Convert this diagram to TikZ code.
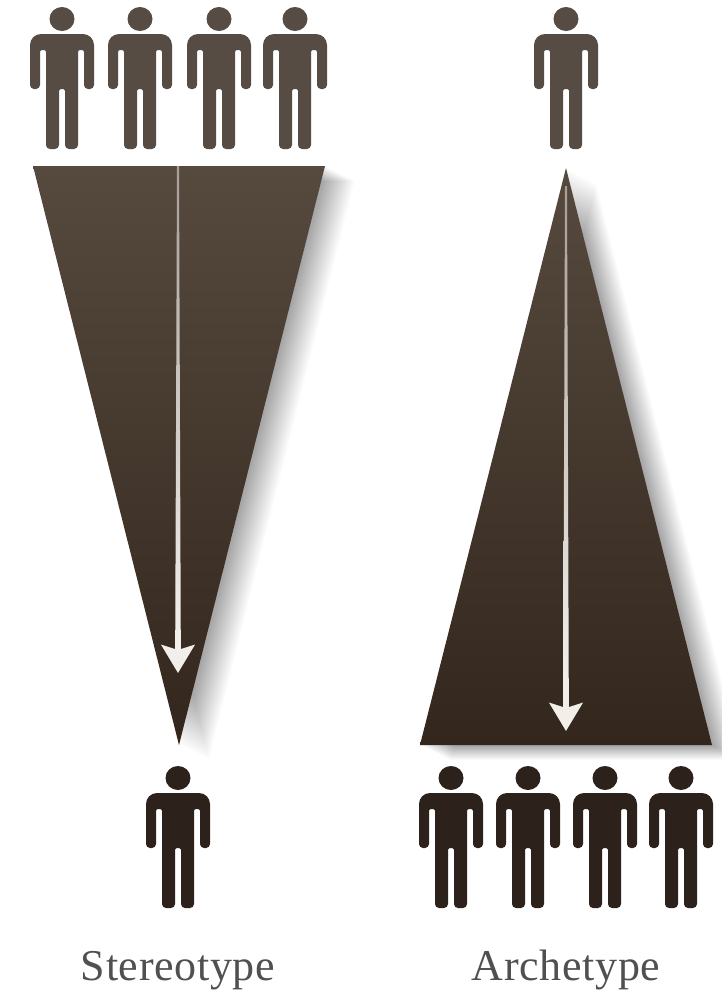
\documentclass[tikz,border=0pt]{standalone}
\usepackage{fontspec}
\setmainfont[LetterSpace=1.5]{Liberation Serif}
\usetikzlibrary{arrows.meta,calc}
\definecolor{figlight}{HTML}{574C43}
\definecolor{figdark}{HTML}{2C211B}
\definecolor{tritop}{HTML}{564A3F}
\definecolor{tribot}{HTML}{33261C}
\definecolor{labelgray}{HTML}{505050}
\definecolor{shaftend}{HTML}{F2EFEA}
\definecolor{shaftstart}{HTML}{A79F97}
\tikzset{
  x=1pt,y=-1pt,
  softshadow/.style={fill=black,fill opacity=.012},
  slab/.style={top color=tritop,bottom color=tribot,draw=none},
  shaft/.style={top color=shaftstart,bottom color=shaftend,draw=none},
  flow/.style={draw=shaftend,line width=5.5pt,-{Stealth[length=28pt,width=33pt,inset=5pt]}},
  caption/.style={font=\fontsize{44}{48}\selectfont,text=labelgray,anchor=base,inner sep=0pt},
  pics/person/.style={code={
    \fill[#1] (0,12) ellipse [x radius=12.5,y radius=12];
    \fill[#1,rounded corners=2.5pt]
      (0,27) [rounded corners=11pt] -- (32,27) [rounded corners=4pt] -- (32,82) -- (22,82)
      [rounded corners=2pt] -- (22,43) -- (16,43) [rounded corners=4pt] -- (16,142) -- (3,142)
      [rounded corners=1.5pt] -- (3,82) -- (-3,82) [rounded corners=4pt] -- (-3,142) -- (-16,142)
      [rounded corners=2pt] -- (-16,43) -- (-22,43) [rounded corners=4pt] -- (-22,82) -- (-32,82)
      [rounded corners=11pt] -- (-32,27) [sharp corners] -- (0,27) -- cycle;
  }}
}
\begin{document}
\begin{tikzpicture}
\useasboundingbox (0,0) rectangle (721,991);
\fill[white] (0,0) rectangle (721,991);
% soft shadows: copies slid to the lower right
\foreach \k in {1,...,30}{
  \begin{scope}[shift={(\k,0.5*\k)}]
    \fill[softshadow] (33,166) -- (325,166) -- (179,745) -- cycle;
    \fill[softshadow] (566,168) -- (712,745) -- (420,745) -- cycle;
  \end{scope}
}
% triangles
\path[slab] (33,166) -- (325,166) -- (179,745) -- cycle;
\path[slab] (566,168) -- (712,745) -- (420,745) -- cycle;
% arrows: tapered shaft, then the head
\coordinate (s0) at (178,166);
\coordinate (sm) at (178,630);
\coordinate (s1) at (178,673);
\coordinate (a0) at (566,186);
\coordinate (am) at (566,680);
\coordinate (a1) at (566,731);
\path[shaft] ($(s0)+(-1,0)$) -- ($(s0)+(1,0)$) -- ($(sm)+(2.75,0)$) -- ($(sm)+(-2.75,0)$) -- cycle;
\path[shaft] ($(a0)+(-1,0)$) -- ($(a0)+(1,0)$) -- ($(am)+(2.75,0)$) -- ($(am)+(-2.75,0)$) -- cycle;
\draw[flow] (sm) -- (s1);
\draw[flow] (am) -- (a1);
% people
\foreach \n/\cx in {p1/62,p2/140,p3/219,p4/295}
  \pic (\n) at (\cx,7) {person={figlight}};
\pic (q1) at (566,7) {person={figlight}};
\pic (r1) at (178,766) {person={figdark}};
\foreach \n/\cx in {t1/451,t2/528,t3/605,t4/681}
  \pic (\n) at (\cx,766) {person={figdark}};
% labels
\node[caption] (stereo) at (178,980) {Stereotype};
\node[caption] (arche) at (566,980) {Archetype};
\end{tikzpicture}
\end{document}
